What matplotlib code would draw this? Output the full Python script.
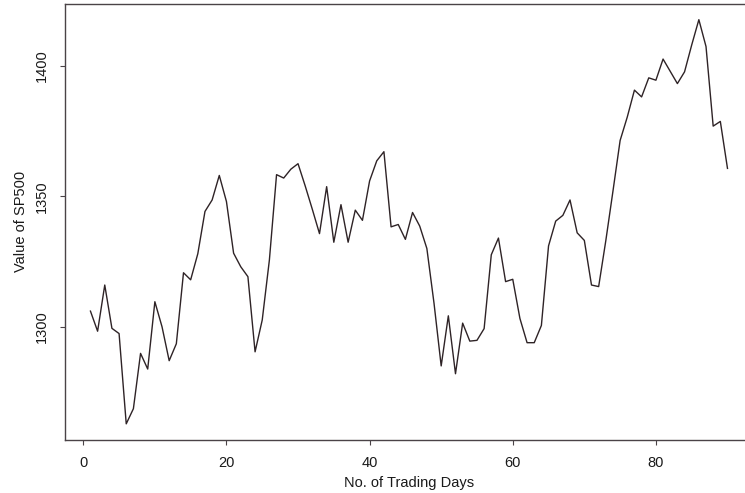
import matplotlib
matplotlib.use('Agg')
import matplotlib.pyplot as plt
import numpy as np


# SP500 closing values, one per trading day
days = list(range(1, 91))
sp500 = [1306.0, 1298.3, 1316.0, 1299.4, 1297.4, 1262.8, 1268.6, 1289.8, 1283.8, 1309.6,
         1300.0, 1287.0, 1293.5, 1320.7, 1318.0, 1328.0, 1344.2, 1348.6, 1358.0, 1348.0,
         1328.2, 1323.0, 1319.2, 1290.4, 1302.6, 1325.6, 1358.3, 1357.0, 1360.4, 1362.5,
         1354.0, 1345.0, 1335.7, 1353.7, 1332.4, 1346.8, 1332.4, 1344.7, 1340.8, 1355.9,
         1363.6, 1367.1, 1338.3, 1339.2, 1333.5, 1343.8, 1338.6, 1330.0, 1309.0, 1285.0,
         1304.2, 1282.0, 1301.4, 1294.5, 1294.8, 1299.3, 1327.6, 1334.0, 1317.3, 1318.2,
         1303.2, 1293.9, 1293.9, 1300.5, 1331.0, 1340.5, 1342.7, 1348.6, 1336.0, 1333.1,
         1316.0, 1315.4, 1333.0, 1352.0, 1371.4, 1380.4, 1390.7, 1388.1, 1395.4, 1394.5,
         1402.6, 1397.9, 1393.2, 1397.7, 1408.0, 1417.7, 1407.4, 1376.9, 1378.7, 1360.7]

x_ticks = [0, 20, 40, 60, 80]
y_ticks = [1300, 1350, 1400]

plt.rcParams['font.family'] = ['Liberation Sans', 'DejaVu Sans']

fig = plt.figure(figsize=(7.45, 4.93), dpi=100)
# plot box runs off the right edge, as in the cropped original
ax = fig.add_axes([0.0872, 0.1075, 0.9235, 0.8854])

ax.plot(days, sp500, color='#2e2326', lw=1.0)

# R style 4% padding on both axes
x0, x1 = min(days), max(days)
y0, y1 = min(sp500), max(sp500)
ax.set_xlim(x0 - 0.04 * (x1 - x0), x1 + 0.04 * (x1 - x0))
ax.set_ylim(y0 - 0.04 * (y1 - y0), y1 + 0.04 * (y1 - y0))

ax.set_xticks(x_ticks)
ax.set_yticks(y_ticks)
ax.set_yticklabels([str(v) for v in y_ticks], rotation=90, va='center')

for sp in ax.spines.values():
    sp.set_color('#4a4347')
    sp.set_linewidth(1.0)
ax.spines['right'].set_visible(False)

ax.tick_params(direction='out', length=3.6, width=0.8, color='#4a4347',
               labelsize=10.5, labelcolor='#1a1a1a', pad=8)

ax.set_xlabel('No. of Trading Days', fontsize=10.5, color='#1a1a1a', labelpad=4)
ax.set_ylabel('Value of SP500', fontsize=10.5, color='#1a1a1a', labelpad=5)

fig.savefig('out.png', dpi=100)
